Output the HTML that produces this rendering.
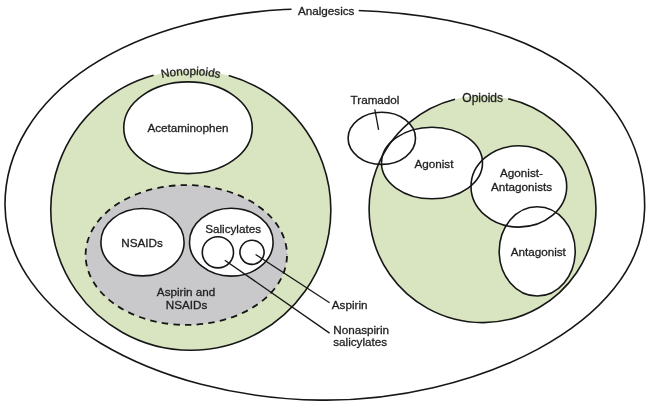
<!DOCTYPE html>
<html>
<head>
<meta charset="utf-8">
<style>
html,body{margin:0;padding:0;background:#fff;}
body{width:650px;height:411px;overflow:hidden;}
svg{display:block;}
text{font-family:"Liberation Sans",sans-serif;font-size:11.7px;fill:#1e1e1e;stroke:#1e1e1e;stroke-width:0.3px;}
svg{will-change:transform;}
</style>
</head>
<body>
<svg width="650" height="411" viewBox="0 0 650 411">
<rect x="0" y="0" width="650" height="411" fill="#fff"/>
<g stroke="#161616" stroke-width="1.6" fill="none">
<!-- outer analgesics -->
<path d="M5.0,205.4 C4.4,98.3 126.5,8.8 315.2,8.8 L325.3,9.7 C550.3,9.7 647.1,99.8 644.6,209.5 C641.9,325.7 471.0,402.0 320.3,400.1 C154.3,398.1 5.7,315.3 5.0,205.4Z" fill="#fff"/>
<rect x="291.5" y="2" width="67.2" height="16" fill="#fff" stroke="none"/>

<!-- nonopioids -->
<circle cx="190.8" cy="210.3" r="140" fill="#d9e5c1" stroke="none"/>
<path d="M228.7,75.5 A140 140 0 1 1 153.6,75.3"/>
<ellipse cx="188" cy="127.75" rx="64.25" ry="45.85" fill="#fff"/>
<ellipse cx="186.3" cy="255" rx="100.7" ry="69.9" fill="#c9c9cc" stroke-dasharray="6.5 5.2" stroke-dashoffset="-1" stroke-width="1.8"/>
<ellipse cx="142.5" cy="242.2" rx="41.6" ry="33.7" fill="#fff"/>
<ellipse cx="231.3" cy="242.2" rx="41.8" ry="33.9" fill="#fff"/>
<circle cx="217.9" cy="252.3" r="15.6"/>
<circle cx="252" cy="252.3" r="12.1"/>
<line x1="255.6" y1="254.5" x2="329.6" y2="302.7" stroke-width="1.3"/>
<line x1="224.8" y1="260.2" x2="329.6" y2="333.1" stroke-width="1.3"/>

<!-- opioids -->
<circle cx="482.5" cy="209.2" r="113.4" fill="#d9e5c1" stroke="none"/>
<ellipse cx="381.8" cy="138.35" rx="33.7" ry="26.05" fill="#fff" stroke="none"/>
<ellipse cx="432" cy="163" rx="50.5" ry="35.8" fill="#fff" stroke="none"/>
<ellipse cx="518.85" cy="186.45" rx="47.85" ry="40.65" fill="#fff" stroke="none"/>
<ellipse cx="537.2" cy="251.35" rx="38" ry="44.65" fill="#fff" stroke="none"/>
<path d="M508.2,98.75 A113.4 113.4 0 1 1 455,99.2"/>
<ellipse cx="381.8" cy="138.35" rx="33.7" ry="26.05"/>
<ellipse cx="432" cy="163" rx="50.5" ry="35.8"/>
<ellipse cx="518.85" cy="186.45" rx="47.85" ry="40.65"/>
<ellipse cx="537.2" cy="251.35" rx="38" ry="44.65"/>
<line x1="374.8" y1="109.3" x2="378.6" y2="129.8" stroke-width="1.3"/>
</g>

<g text-anchor="middle">
<text x="326.2" y="14.7">Analgesics</text>
<text text-anchor="start" x="161.74 170.06 176.51 183.00 189.50 196.01 198.61 205.09 207.67 214.11" y="78.09 76.56 75.72 75.19 74.97 75.09 75.19 75.75 76.02 76.99" rotate="-10.61 -7.44 -4.68 -1.93 0.83 2.76 4.68 6.61 8.54 11.16">Nonopioids</text>
<text x="482.7" y="101.5" style="font-size:12px">Opioids</text>
<text x="188" y="131.6">Acetaminophen</text>
<text x="142.1" y="247.1">NSAIDs</text>
<text x="233.1" y="233">Salicylates</text>
<text x="186.1" y="295.8">Aspirin and</text>
<text x="186.6" y="308.6">NSAIDs</text>
<text x="375" y="104.2">Tramadol</text>
<text x="433.9" y="168.1">Agonist</text>
<text x="521.5" y="176.9">Agonist-</text>
<text x="521.6" y="190.5">Antagonists</text>
<text x="538.25" y="256.3">Antagonist</text>
</g>
<g>
<text x="331.8" y="308.5">Aspirin</text>
<text x="333.2" y="333.5">Nonaspirin</text>
<text x="333.2" y="346.4">salicylates</text>
</g>
</svg>
</body>
</html>
